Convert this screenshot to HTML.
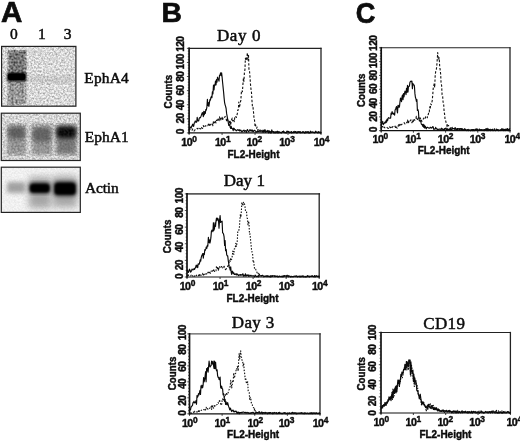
<!DOCTYPE html>
<html lang="en">
<head>
<meta charset="utf-8">
<title>Figure</title>
<style>
html,body{margin:0;padding:0;background:#fff;}
body{width:520px;height:441px;overflow:hidden;}
svg{display:block;filter:blur(0.3px);}
.sb{font-family:"Liberation Sans", Arial, Helvetica, sans-serif;font-weight:700;fill:#0d0d0d;stroke:#0d0d0d;stroke-width:0.42px;}
.sf{font-family:"Liberation Serif", "Times New Roman", Times, serif;font-weight:400;fill:#0d0d0d;stroke:#0d0d0d;stroke-width:0.5px;}
</style>
</head>
<body>
<svg width="520" height="441" viewBox="0 0 520 441">
<defs>
<filter id="b1" x="-30%" y="-30%" width="160%" height="160%"><feGaussianBlur stdDeviation="1.2"/></filter>
<filter id="b2" x="-30%" y="-30%" width="160%" height="160%"><feGaussianBlur stdDeviation="2.2"/></filter>
<filter id="b3" x="-30%" y="-30%" width="160%" height="160%"><feGaussianBlur stdDeviation="3.5"/></filter>
<filter id="nz" x="0" y="0" width="100%" height="100%">
  <feTurbulence type="fractalNoise" baseFrequency="0.55" numOctaves="2" seed="7" result="t"/>
  <feColorMatrix in="t" type="matrix" values="0 0 0 0 0  0 0 0 0 0  0 0 0 0 0  1.9 0 0 0 -0.62" result="a"/>
  <feComposite in="SourceGraphic" in2="a" operator="in"/>
</filter>
<filter id="nz2" x="0" y="0" width="100%" height="100%">
  <feTurbulence type="fractalNoise" baseFrequency="0.5" numOctaves="2" seed="23" result="t"/>
  <feColorMatrix in="t" type="matrix" values="0 0 0 0 0  0 0 0 0 0  0 0 0 0 0  2.2 0 0 0 -0.75" result="a"/>
  <feComposite in="SourceGraphic" in2="a" operator="in"/>
</filter>
<clipPath id="c1"><rect x="1.6" y="46.4" width="74.3" height="59.8"/></clipPath>
<clipPath id="c2"><rect x="1.3" y="113.2" width="79" height="47.3"/></clipPath>
<clipPath id="c3"><rect x="1.3" y="167.2" width="79" height="45.2"/></clipPath>
</defs>
<rect width="520" height="441" fill="#fff"/>
<text class="sb" x="1.00" y="22.00" font-size="29.5" text-anchor="start" style="stroke-width:0.7px">A</text>
<text class="sb" x="161.40" y="21.90" font-size="28.2" text-anchor="start" style="stroke-width:0.7px">B</text>
<text class="sb" x="355.70" y="23.40" font-size="29.5" text-anchor="start" textLength="19.60" lengthAdjust="spacingAndGlyphs" style="stroke-width:0.7px">C</text>
<text class="sf" x="10.00" y="39.30" font-size="15.5" text-anchor="start">0</text>
<text class="sf" x="38.00" y="39.30" font-size="15.5" text-anchor="start">1</text>
<text class="sf" x="63.80" y="39.30" font-size="15.5" text-anchor="start">3</text>
<g clip-path="url(#c1)">
<rect x="1.6" y="46.4" width="74.3" height="59.8" fill="#f6f6f6"/>
<rect x="1.6" y="46.4" width="74.3" height="59.8" fill="#8c8c8c" filter="url(#nz)" opacity="0.85"/>
<rect x="27" y="77" width="46" height="5" fill="#999" filter="url(#b2)" opacity="0.35"/>
<rect x="8.5" y="51" width="17" height="53" fill="#8a8a8a" filter="url(#b1)" opacity="0.42"/>
<rect x="8.5" y="51" width="17" height="20" fill="#666" filter="url(#b1)" opacity="0.4"/>
<rect x="7.5" y="50" width="19" height="24" fill="#1e1e1e" filter="url(#nz2)" opacity="0.75"/>
<rect x="7.5" y="74" width="19" height="31" fill="#1e1e1e" filter="url(#nz2)" opacity="0.6"/>
<rect x="7.0" y="72.4" width="19.2" height="8.8" rx="2" fill="#0a0a0a" filter="url(#b1)"/>
<rect x="8.0" y="73.6" width="17.2" height="6.4" rx="2" fill="#000"/>
</g>
<rect x="1.6" y="46.4" width="74.3" height="59.8" fill="none" stroke="#222" stroke-width="1.2"/>
<text class="sf" x="84.30" y="82.60" font-size="15.4" text-anchor="start" textLength="44.40" lengthAdjust="spacing">EphA4</text>
<g clip-path="url(#c2)">
<rect x="1.3" y="113.2" width="79" height="47.3" fill="#f0f0f0"/>
<rect x="1.3" y="113.2" width="79" height="47.3" fill="#8a8a8a" filter="url(#nz)" opacity="0.8"/>
<rect x="8" y="126" width="17.5" height="28" fill="#808080" filter="url(#b2)" opacity="0.62"/>
<rect x="32.5" y="126" width="19" height="28" fill="#808080" filter="url(#b2)" opacity="0.62"/>
<rect x="56.5" y="126" width="19.5" height="28" fill="#686868" filter="url(#b2)" opacity="0.8"/>
<rect x="56.5" y="126.5" width="19.5" height="11.5" rx="3" fill="#050505" filter="url(#b2)" opacity="0.97"/>
<rect x="8" y="126.5" width="17" height="12" rx="3" fill="#3a3a3a" filter="url(#b2)" opacity="0.6"/>
<rect x="32.5" y="127.5" width="18.5" height="14" rx="3" fill="#3a3a3a" filter="url(#b2)" opacity="0.55"/>
<rect x="7" y="123" width="19" height="33" fill="#444" filter="url(#nz2)" opacity="0.4"/>
<rect x="31.5" y="123" width="21" height="33" fill="#444" filter="url(#nz2)" opacity="0.4"/>
<rect x="55.5" y="123" width="21.5" height="33" fill="#444" filter="url(#nz2)" opacity="0.4"/>
</g>
<rect x="1.3" y="113.2" width="79" height="47.3" fill="none" stroke="#222" stroke-width="1.2"/>
<text class="sf" x="84.70" y="142.10" font-size="15.4" text-anchor="start" textLength="44.00" lengthAdjust="spacing">EphA1</text>
<g clip-path="url(#c3)">
<rect x="1.3" y="167.2" width="79" height="45.2" fill="#f7f7f7"/>
<rect x="1.3" y="167.2" width="79" height="45.2" fill="#bbb" filter="url(#nz)" opacity="0.3"/>
<rect x="29" y="177" width="22" height="31" fill="#999" filter="url(#b3)" opacity="0.85"/>
<rect x="53" y="176" width="24" height="31" fill="#999" filter="url(#b3)" opacity="0.85"/>
<rect x="7" y="182" width="18.5" height="11" rx="2" fill="#8e8e8e" filter="url(#b2)" opacity="0.8"/>
<rect x="29.5" y="183" width="20.5" height="10" rx="2" fill="#050505" filter="url(#b2)"/>
<rect x="30.5" y="184.5" width="18.5" height="7.5" rx="2" fill="#000" filter="url(#b1)"/>
<rect x="54" y="182" width="22" height="13.5" rx="2.5" fill="#000" filter="url(#b2)"/>
<rect x="55" y="183.5" width="20" height="10.5" rx="2.5" fill="#000" filter="url(#b1)"/>
</g>
<rect x="1.3" y="167.2" width="79" height="45.2" fill="none" stroke="#222" stroke-width="1.2"/>
<text class="sf" x="84.90" y="193.30" font-size="15.4" text-anchor="start" textLength="33.80" lengthAdjust="spacing">Actin</text>
<path d="M189.10,48.35H321.00" stroke="#222" stroke-width="1.1" fill="none" stroke-linecap="square"/>
<path d="M321.00,48.35V132.90" stroke="#222" stroke-width="1.3" fill="none" stroke-linecap="square"/>
<path d="M189.10,132.90H321.00" stroke="#111" stroke-width="1.2" fill="none" stroke-linecap="square"/>
<path d="M189.10,48.35V132.90" stroke="#111" stroke-width="1.7" fill="none" stroke-linecap="square"/>
<path d="M189.10,132.90h-2.2M189.10,130.08h-1.3M189.10,127.26h-1.3M189.10,124.45h-1.3M189.10,121.63h-1.3M189.10,118.81h-2.2M189.10,115.99h-1.3M189.10,113.17h-1.3M189.10,110.35h-1.3M189.10,107.53h-1.3M189.10,104.72h-2.2M189.10,101.90h-1.3M189.10,99.08h-1.3M189.10,96.26h-1.3M189.10,93.44h-1.3M189.10,90.62h-2.2M189.10,87.81h-1.3M189.10,84.99h-1.3M189.10,82.17h-1.3M189.10,79.35h-1.3M189.10,76.53h-2.2M189.10,73.72h-1.3M189.10,70.90h-1.3M189.10,68.08h-1.3M189.10,65.26h-1.3M189.10,62.44h-2.2M189.10,59.62h-1.3M189.10,56.80h-1.3M189.10,53.99h-1.3M189.10,51.17h-1.3M189.10,48.35h-2.2" stroke="#222" stroke-width="0.8" fill="none"/>
<path d="M189.10,132.90v2M222.07,132.90v2M255.05,132.90v2M288.02,132.90v2M321.00,132.90v2" stroke="#222" stroke-width="0.9" fill="none"/>
<path d="M189.1,129.8L189.6,128.9L190.1,129.6L190.6,130.1L191.1,129.5L191.6,130.0L192.1,130.2L192.7,128.9L193.2,130.3L193.7,130.8L194.2,130.9L194.7,130.3L195.2,129.5L195.7,129.4L196.2,129.1L196.7,128.5L197.2,128.4L197.7,129.0L198.2,128.4L198.7,128.8L199.2,129.5L199.8,128.4L200.3,128.8L200.8,128.9L201.3,127.0L201.8,127.7L202.3,128.5L202.8,127.9L203.3,125.5L203.8,127.5L204.3,126.3L204.8,126.2L205.3,126.0L205.8,125.7L206.3,126.5L206.9,126.2L207.4,125.6L207.9,125.6L208.4,124.1L208.9,123.0L209.4,125.4L209.9,123.6L210.4,125.0L210.9,124.5L211.4,123.7L211.9,123.0L212.4,123.4L212.9,125.8L213.5,120.7L214.0,122.5L214.5,122.7L215.0,120.7L215.5,122.1L216.0,123.0L216.5,120.2L217.0,120.0L217.5,121.5L218.0,119.0L218.5,119.3L219.0,121.2L219.5,116.9L220.0,118.7L220.6,120.5L221.1,118.2L221.6,118.6L222.1,117.3L222.6,120.6L223.1,117.1L223.6,117.2L224.1,117.5L224.6,117.5L225.1,116.4L225.6,117.3L226.1,118.8L226.6,120.8L227.1,118.9L227.7,119.8L228.2,121.4L228.7,122.3L229.2,121.3L229.7,125.1L230.2,121.3L230.7,124.7L231.2,120.9L231.7,119.5L232.2,118.1L232.7,121.0L233.2,119.2L233.7,119.3L234.3,121.8L234.8,116.8L235.3,117.3L235.8,116.5L236.3,117.5L236.8,115.4L237.3,113.8L237.8,109.9L238.3,109.9L238.8,102.1L239.3,107.7L239.8,105.7L240.3,102.3L240.8,100.6L241.4,91.9L241.9,90.4L242.4,91.8L242.9,84.9L243.4,78.2L243.9,81.4L244.4,72.9L244.9,70.0L245.4,58.1L245.9,60.6L246.4,59.7L246.9,56.7L247.4,52.6L247.9,60.0L248.5,54.6L249.0,70.4L249.5,70.9L250.0,77.1L250.5,84.4L251.0,89.1L251.5,92.7L252.0,101.0L252.5,107.6L253.0,107.4L253.5,111.8L254.0,118.4L254.5,120.1L255.1,126.6L255.6,124.9L256.1,128.1L256.6,128.3L257.1,127.1L257.6,130.3L258.1,129.5L258.6,130.4L259.1,131.1L259.6,130.7L260.1,129.9L260.6,131.0L261.1,130.6L261.6,129.9L262.2,130.5L262.7,131.2L263.2,129.6L263.7,130.5L264.2,129.8L264.7,131.3L265.2,129.8L265.7,131.6L266.2,131.8L266.7,131.2L267.2,131.2L267.7,130.9L268.2,131.4L268.7,130.8L269.3,130.5L269.8,131.7L270.3,132.2L270.8,131.7L271.3,131.1L271.8,131.2L272.3,132.0L272.8,132.4L273.3,131.9L273.8,131.5L274.3,132.5L274.8,131.4L275.3,132.0L275.8,132.0L276.4,132.5L276.9,131.4L277.4,132.2L277.9,132.9L278.4,131.7L278.9,132.4L279.4,131.6L279.9,132.1L280.4,132.5L280.9,132.1L281.4,132.5L281.9,132.7L282.4,132.2L283.0,131.7L283.5,132.2L284.0,132.3L284.5,132.5L285.0,131.9L285.5,132.1L286.0,131.7L286.5,132.0L287.0,131.0L287.5,132.9L288.0,132.2L288.5,131.9L289.0,131.7L289.5,132.9L290.1,132.9L290.6,132.3L291.1,131.6L291.6,131.6L292.1,132.9L292.6,132.2L293.1,131.6L293.6,132.2L294.1,132.8L294.6,132.6L295.1,132.9L295.6,131.6L296.1,132.4L296.6,132.5L297.2,132.7L297.7,132.3L298.2,132.8L298.7,132.8L299.2,132.3L299.7,132.4L300.2,132.0L300.7,132.2L301.2,131.6L301.7,132.3L302.2,132.1L302.7,132.1L303.2,132.7L303.8,131.6L304.3,132.6L304.8,132.9L305.3,131.6L305.8,131.9L306.3,132.6L306.8,131.7L307.3,131.7L307.8,131.9L308.3,132.9L308.8,132.2L309.3,132.9L309.8,132.6L310.3,132.6L310.9,132.8L311.4,132.0L311.9,132.7L312.4,131.9L312.9,132.2L313.4,132.6L313.9,132.2L314.4,131.9L314.9,131.7L315.4,132.4L315.9,131.3L316.4,132.0L316.9,131.6L317.4,132.9L318.0,132.9L318.5,131.6L319.0,132.4L319.5,132.1L320.0,131.6L320.5,132.9L321.0,132.1" fill="none" stroke="#111" stroke-width="1.1" stroke-dasharray="2.4,1.7" stroke-linejoin="round"/>
<path d="M189.1,129.8L189.6,127.9L190.1,126.9L190.6,127.8L191.1,128.2L191.6,126.4L192.1,125.4L192.7,124.2L193.2,126.4L193.7,126.1L194.2,123.1L194.7,122.9L195.2,121.0L195.7,121.3L196.2,122.3L196.7,122.0L197.2,117.3L197.7,120.8L198.2,121.0L198.7,120.9L199.2,118.3L199.8,117.6L200.3,117.8L200.8,116.7L201.3,115.4L201.8,114.0L202.3,112.6L202.8,113.6L203.3,116.7L203.8,111.4L204.3,114.8L204.8,111.7L205.3,113.5L205.8,109.5L206.3,110.1L206.9,107.0L207.4,99.3L207.9,105.5L208.4,102.5L208.9,106.3L209.4,103.0L209.9,99.7L210.4,100.2L210.9,97.4L211.4,96.4L211.9,97.7L212.4,91.9L212.9,94.0L213.5,85.0L214.0,89.9L214.5,84.9L215.0,85.2L215.5,81.0L216.0,84.9L216.5,79.5L217.0,82.1L217.5,77.2L218.0,78.5L218.5,79.3L219.0,81.2L219.5,75.3L220.0,75.2L220.6,72.8L221.1,75.7L221.6,72.8L222.1,77.1L222.6,82.5L223.1,87.4L223.6,92.1L224.1,97.9L224.6,102.6L225.1,104.8L225.6,106.4L226.1,108.5L226.6,113.4L227.1,116.1L227.7,119.3L228.2,122.1L228.7,125.4L229.2,125.3L229.7,124.8L230.2,127.5L230.7,128.4L231.2,126.4L231.7,128.5L232.2,128.4L232.7,129.1L233.2,130.7L233.7,128.1L234.3,128.7L234.8,129.9L235.3,129.6L235.8,130.1L236.3,130.8L236.8,130.3L237.3,130.1L237.8,129.6L238.3,130.0L238.8,130.5L239.3,129.7L239.8,131.1L240.3,130.2L240.8,130.1L241.4,131.0L241.9,131.9L242.4,131.4L242.9,130.7L243.4,130.6L243.9,130.0L244.4,131.5L244.9,130.9L245.4,130.5L245.9,131.1L246.4,132.4L246.9,130.5L247.4,129.6L247.9,130.4L248.5,131.6L249.0,131.3L249.5,130.9L250.0,129.5L250.5,130.7L251.0,131.0L251.5,130.1L252.0,131.2L252.5,130.0L253.0,131.6L253.5,131.4L254.0,130.7L254.5,130.3L255.1,130.8L255.6,131.0L256.1,132.3L256.6,131.7L257.1,131.6L257.6,131.6L258.1,130.9L258.6,131.5L259.1,130.8L259.6,131.2L260.1,131.5L260.6,131.3L261.1,131.1L261.6,130.8L262.2,131.7L262.7,131.6L263.2,132.3L263.7,130.5L264.2,130.6L264.7,131.7L265.2,131.9L265.7,132.4L266.2,131.5L266.7,131.5L267.2,130.4L267.7,131.6L268.2,132.2L268.7,132.9L269.3,131.0L269.8,131.8L270.3,132.9L270.8,131.8L271.3,132.9L271.8,129.9L272.3,131.4L272.8,131.7L273.3,132.2L273.8,132.9L274.3,132.2L274.8,132.9L275.3,131.8L275.8,132.9L276.4,132.8L276.9,131.5L277.4,131.2L277.9,132.9L278.4,132.9L278.9,131.7L279.4,131.7L279.9,132.8L280.4,132.6L280.9,132.6L281.4,132.9L281.9,132.6L282.4,131.5L283.0,131.8L283.5,131.0L284.0,132.3L284.5,132.3L285.0,132.8L285.5,132.3L286.0,132.9L286.5,132.9L287.0,131.8L287.5,131.4L288.0,131.7L288.5,131.4L289.0,132.1L289.5,132.7L290.1,132.2L290.6,132.5L291.1,132.9L291.6,132.9L292.1,132.9L292.6,132.3L293.1,132.2L293.6,132.6L294.1,131.4L294.6,132.2L295.1,131.9L295.6,131.5L296.1,132.8L296.6,132.9L297.2,131.8L297.7,132.7L298.2,131.5L298.7,132.1L299.2,131.7L299.7,131.8L300.2,132.9L300.7,131.8L301.2,132.7L301.7,132.7L302.2,132.6L302.7,131.8L303.2,131.7L303.8,131.7L304.3,132.9L304.8,132.7L305.3,132.9L305.8,132.4L306.3,131.9L306.8,132.8L307.3,132.2L307.8,132.2L308.3,131.7L308.8,132.8L309.3,132.8L309.8,132.8L310.3,131.2L310.9,131.6L311.4,132.4L311.9,132.2L312.4,132.2L312.9,132.2L313.4,132.4L313.9,132.5L314.4,132.9L314.9,132.7L315.4,131.3L315.9,132.0L316.4,132.3L316.9,132.5L317.4,132.3L318.0,132.1L318.5,132.7L319.0,132.2L319.5,132.2L320.0,132.8L320.5,132.8L321.0,132.9" fill="none" stroke="#0a0a0a" stroke-width="1.15" stroke-linejoin="round"/>
<text class="sb" transform="translate(184.10,131.70) rotate(-90)" font-size="10.2" text-anchor="middle" letter-spacing="-0.6">0</text>
<text class="sb" transform="translate(184.10,118.50) rotate(-90)" font-size="10.2" text-anchor="middle" letter-spacing="-0.6">20</text>
<text class="sb" transform="translate(184.10,105.20) rotate(-90)" font-size="10.2" text-anchor="middle" letter-spacing="-0.6">40</text>
<text class="sb" transform="translate(184.10,90.40) rotate(-90)" font-size="10.2" text-anchor="middle" letter-spacing="-0.6">60</text>
<text class="sb" transform="translate(184.10,76.70) rotate(-90)" font-size="10.2" text-anchor="middle" letter-spacing="-0.6">80</text>
<text class="sb" transform="translate(184.10,61.80) rotate(-90)" font-size="10.2" text-anchor="middle" letter-spacing="-0.6">100</text>
<text class="sb" transform="translate(184.10,44.20) rotate(-90)" font-size="10.2" text-anchor="middle" letter-spacing="-0.6">120</text>
<text class="sb" transform="translate(172.10,91.62) rotate(-90)" font-size="10" text-anchor="middle" textLength="33.60" lengthAdjust="spacingAndGlyphs">Counts</text>
<text class="sb" transform="translate(181.30,146.00) " font-size="10.7" letter-spacing="-0.6">10<tspan dy="-4.3" dx="0.3" font-size="8.4">0</tspan></text>
<text class="sb" transform="translate(215.00,146.00) " font-size="10.7" letter-spacing="-0.6">10<tspan dy="-4.3" dx="0.3" font-size="8.4">1</tspan></text>
<text class="sb" transform="translate(246.60,146.00) " font-size="10.7" letter-spacing="-0.6">10<tspan dy="-4.3" dx="0.3" font-size="8.4">2</tspan></text>
<text class="sb" transform="translate(279.20,146.00) " font-size="10.7" letter-spacing="-0.6">10<tspan dy="-4.3" dx="0.3" font-size="8.4">3</tspan></text>
<text class="sb" transform="translate(313.70,146.00) " font-size="10.7" letter-spacing="-0.6">10<tspan dy="-4.3" dx="0.3" font-size="8.4">4</tspan></text>
<text class="sb" x="227.50" y="158.40" font-size="10" text-anchor="start" textLength="52.00" lengthAdjust="spacingAndGlyphs">FL2-Height</text>
<text class="sf" x="216.90" y="41.00" font-size="17" text-anchor="start" textLength="43.60" lengthAdjust="spacing">Day 0</text>
<path d="M187.00,193.90H319.20" stroke="#5a5a5a" stroke-width="1.7" fill="none" stroke-linecap="square"/>
<path d="M319.20,193.90V277.00" stroke="#222" stroke-width="1.3" fill="none" stroke-linecap="square"/>
<path d="M187.00,277.00H319.20" stroke="#111" stroke-width="1.2" fill="none" stroke-linecap="square"/>
<path d="M187.00,193.90V277.00" stroke="#111" stroke-width="1.7" fill="none" stroke-linecap="square"/>
<path d="M187.00,277.00h-2.2M187.00,273.68h-1.3M187.00,270.35h-1.3M187.00,267.03h-1.3M187.00,263.70h-1.3M187.00,260.38h-2.2M187.00,257.06h-1.3M187.00,253.73h-1.3M187.00,250.41h-1.3M187.00,247.08h-1.3M187.00,243.76h-2.2M187.00,240.44h-1.3M187.00,237.11h-1.3M187.00,233.79h-1.3M187.00,230.46h-1.3M187.00,227.14h-2.2M187.00,223.82h-1.3M187.00,220.49h-1.3M187.00,217.17h-1.3M187.00,213.84h-1.3M187.00,210.52h-2.2M187.00,207.20h-1.3M187.00,203.87h-1.3M187.00,200.55h-1.3M187.00,197.22h-1.3M187.00,193.90h-2.2" stroke="#222" stroke-width="0.8" fill="none"/>
<path d="M187.00,277.00v2M220.05,277.00v2M253.10,277.00v2M286.15,277.00v2M319.20,277.00v2" stroke="#222" stroke-width="0.9" fill="none"/>
<path d="M187.0,275.5L187.5,275.8L188.0,274.0L188.5,275.4L189.0,275.5L189.5,275.4L190.1,275.8L190.6,275.9L191.1,275.2L191.6,275.7L192.1,275.0L192.6,275.5L193.1,276.4L193.6,276.1L194.1,275.8L194.6,276.4L195.1,275.3L195.6,275.4L196.2,274.7L196.7,275.7L197.2,275.3L197.7,274.8L198.2,274.6L198.7,275.7L199.2,274.1L199.7,275.4L200.2,274.2L200.7,275.1L201.2,275.2L201.7,275.6L202.3,274.9L202.8,273.3L203.3,275.2L203.8,273.7L204.3,273.6L204.8,274.6L205.3,273.3L205.8,272.8L206.3,273.9L206.8,273.9L207.3,272.4L207.8,272.8L208.4,271.1L208.9,272.4L209.4,273.6L209.9,272.4L210.4,273.3L210.9,271.3L211.4,271.1L211.9,272.0L212.4,272.2L212.9,270.2L213.4,271.2L213.9,269.3L214.5,271.4L215.0,270.4L215.5,270.5L216.0,270.8L216.5,266.1L217.0,267.1L217.5,269.6L218.0,267.6L218.5,270.7L219.0,266.6L219.5,266.6L220.1,268.2L220.6,268.0L221.1,267.0L221.6,266.5L222.1,267.4L222.6,267.9L223.1,267.0L223.6,267.6L224.1,266.3L224.6,267.6L225.1,267.8L225.6,270.5L226.2,268.9L226.7,268.1L227.2,267.4L227.7,266.0L228.2,265.4L228.7,266.4L229.2,261.6L229.7,260.3L230.2,261.5L230.7,258.1L231.2,259.7L231.7,259.2L232.3,255.8L232.8,251.0L233.3,253.0L233.8,254.4L234.3,248.8L234.8,248.9L235.3,247.6L235.8,243.2L236.3,246.5L236.8,244.1L237.3,240.6L237.8,230.8L238.4,230.8L238.9,230.2L239.4,227.5L239.9,219.8L240.4,214.2L240.9,217.3L241.4,210.7L241.9,202.2L242.4,204.8L242.9,205.8L243.4,202.2L243.9,204.4L244.5,203.8L245.0,206.5L245.5,211.0L246.0,211.2L246.5,211.3L247.0,218.0L247.5,218.6L248.0,224.8L248.5,221.1L249.0,223.4L249.5,234.0L250.0,233.8L250.6,240.4L251.1,245.2L251.6,250.3L252.1,252.2L252.6,253.9L253.1,261.1L253.6,260.3L254.1,265.4L254.6,269.1L255.1,268.8L255.6,269.0L256.2,270.9L256.7,271.5L257.2,273.1L257.7,274.1L258.2,273.3L258.7,275.0L259.2,274.1L259.7,274.9L260.2,275.6L260.7,275.8L261.2,275.9L261.7,275.8L262.3,275.9L262.8,275.9L263.3,276.8L263.8,276.9L264.3,275.8L264.8,276.3L265.3,276.3L265.8,276.2L266.3,276.6L266.8,275.6L267.3,276.2L267.8,276.3L268.4,276.6L268.9,275.9L269.4,276.0L269.9,275.7L270.4,275.9L270.9,276.6L271.4,276.7L271.9,275.8L272.4,276.5L272.9,276.4L273.4,276.4L273.9,276.1L274.5,276.1L275.0,276.7L275.5,276.5L276.0,276.9L276.5,276.1L277.0,276.4L277.5,276.9L278.0,276.0L278.5,276.3L279.0,276.7L279.5,276.5L280.0,276.5L280.6,276.3L281.1,276.3L281.6,276.5L282.1,276.2L282.6,277.0L283.1,276.5L283.6,276.1L284.1,276.0L284.6,276.1L285.1,276.7L285.6,276.9L286.1,276.5L286.7,275.6L287.2,276.3L287.7,276.6L288.2,276.9L288.7,276.3L289.2,276.5L289.7,276.2L290.2,276.3L290.7,277.0L291.2,276.4L291.7,276.1L292.3,276.6L292.8,276.8L293.3,276.8L293.8,276.8L294.3,275.7L294.8,275.9L295.3,276.6L295.8,275.9L296.3,276.7L296.8,276.6L297.3,276.6L297.8,276.5L298.4,276.2L298.9,275.7L299.4,276.2L299.9,276.4L300.4,276.4L300.9,276.5L301.4,276.3L301.9,276.7L302.4,276.3L302.9,276.3L303.4,276.1L303.9,276.7L304.5,276.3L305.0,276.3L305.5,276.7L306.0,277.0L306.5,276.6L307.0,276.1L307.5,276.5L308.0,275.7L308.5,276.3L309.0,276.7L309.5,276.5L310.0,276.3L310.6,276.3L311.1,276.5L311.6,276.3L312.1,275.5L312.6,276.2L313.1,276.4L313.6,276.6L314.1,277.0L314.6,276.4L315.1,276.6L315.6,276.5L316.1,276.6L316.7,276.2L317.2,276.1L317.7,276.7L318.2,276.9L318.7,276.4L319.2,276.0" fill="none" stroke="#111" stroke-width="1.1" stroke-dasharray="1.5,1.5" stroke-linejoin="round"/>
<path d="M187.0,270.9L187.5,270.2L188.0,272.3L188.5,272.3L189.0,270.8L189.5,269.2L190.1,270.5L190.6,272.1L191.1,271.6L191.6,270.5L192.1,269.0L192.6,269.8L193.1,269.9L193.6,269.4L194.1,268.5L194.6,269.4L195.1,268.1L195.6,267.4L196.2,265.1L196.7,267.1L197.2,265.3L197.7,267.6L198.2,263.9L198.7,264.0L199.2,264.2L199.7,262.5L200.2,259.9L200.7,261.2L201.2,257.7L201.7,255.8L202.3,254.6L202.8,253.5L203.3,258.2L203.8,253.6L204.3,254.6L204.8,249.7L205.3,250.4L205.8,248.9L206.3,247.0L206.8,248.4L207.3,245.4L207.8,246.2L208.4,237.4L208.9,242.5L209.4,239.8L209.9,243.2L210.4,241.0L210.9,237.7L211.4,231.4L211.9,230.1L212.4,230.2L212.9,231.7L213.4,222.7L213.9,230.3L214.5,228.5L215.0,222.9L215.5,226.4L216.0,221.1L216.5,218.0L217.0,220.6L217.5,218.2L218.0,218.6L218.5,220.3L219.0,228.1L219.5,220.6L220.1,215.5L220.6,222.4L221.1,221.6L221.6,221.9L222.1,221.2L222.6,232.7L223.1,233.1L223.6,234.3L224.1,236.9L224.6,245.5L225.1,240.6L225.6,250.7L226.2,249.4L226.7,254.7L227.2,255.8L227.7,255.8L228.2,260.1L228.7,263.5L229.2,267.3L229.7,267.9L230.2,270.1L230.7,266.9L231.2,272.3L231.7,274.4L232.3,271.2L232.8,271.8L233.3,273.6L233.8,272.8L234.3,274.4L234.8,274.5L235.3,273.9L235.8,274.3L236.3,275.0L236.8,273.7L237.3,274.3L237.8,274.7L238.4,275.6L238.9,274.8L239.4,275.1L239.9,275.0L240.4,274.5L240.9,275.4L241.4,274.9L241.9,274.6L242.4,274.9L242.9,273.7L243.4,276.2L243.9,275.2L244.5,275.9L245.0,275.3L245.5,273.8L246.0,276.3L246.5,275.5L247.0,275.0L247.5,275.4L248.0,274.9L248.5,276.3L249.0,275.0L249.5,276.0L250.0,276.2L250.6,275.3L251.1,275.4L251.6,276.0L252.1,276.1L252.6,275.8L253.1,275.7L253.6,275.8L254.1,276.3L254.6,276.9L255.1,275.1L255.6,275.7L256.2,276.4L256.7,276.6L257.2,276.2L257.7,276.1L258.2,276.9L258.7,275.2L259.2,275.7L259.7,276.1L260.2,275.8L260.7,275.8L261.2,275.5L261.7,275.9L262.3,275.4L262.8,275.3L263.3,276.1L263.8,276.2L264.3,276.4L264.8,276.1L265.3,276.4L265.8,276.1L266.3,275.9L266.8,275.9L267.3,276.6L267.8,275.7L268.4,276.3L268.9,276.2L269.4,276.4L269.9,277.0L270.4,276.1L270.9,276.9L271.4,275.8L271.9,276.2L272.4,275.6L272.9,276.0L273.4,276.0L273.9,275.7L274.5,276.3L275.0,275.7L275.5,276.3L276.0,276.2L276.5,276.5L277.0,276.1L277.5,276.0L278.0,276.5L278.5,276.8L279.0,276.3L279.5,276.1L280.0,276.3L280.6,276.7L281.1,276.6L281.6,276.4L282.1,277.0L282.6,276.5L283.1,275.7L283.6,276.8L284.1,276.4L284.6,275.6L285.1,276.0L285.6,275.9L286.1,276.4L286.7,276.8L287.2,275.2L287.7,276.2L288.2,276.2L288.7,275.7L289.2,276.0L289.7,276.3L290.2,276.7L290.7,276.4L291.2,276.4L291.7,276.6L292.3,276.6L292.8,276.7L293.3,276.4L293.8,276.5L294.3,276.2L294.8,276.0L295.3,276.2L295.8,276.3L296.3,275.8L296.8,276.1L297.3,276.9L297.8,276.6L298.4,276.3L298.9,276.7L299.4,276.1L299.9,277.0L300.4,277.0L300.9,276.0L301.4,276.1L301.9,276.9L302.4,276.3L302.9,275.9L303.4,276.8L303.9,276.8L304.5,276.8L305.0,276.7L305.5,277.0L306.0,276.5L306.5,276.9L307.0,276.3L307.5,275.6L308.0,276.7L308.5,276.0L309.0,276.0L309.5,277.0L310.0,276.3L310.6,276.4L311.1,276.5L311.6,276.1L312.1,276.5L312.6,276.3L313.1,276.5L313.6,276.4L314.1,276.7L314.6,275.6L315.1,276.4L315.6,276.8L316.1,275.7L316.7,275.8L317.2,276.5L317.7,276.6L318.2,276.7L318.7,276.0L319.2,276.5" fill="none" stroke="#0a0a0a" stroke-width="1.15" stroke-linejoin="round"/>
<text class="sb" transform="translate(182.80,276.50) rotate(-90)" font-size="10.2" text-anchor="middle" letter-spacing="-0.6">0</text>
<text class="sb" transform="translate(182.80,265.30) rotate(-90)" font-size="10.2" text-anchor="middle" letter-spacing="-0.6">20</text>
<text class="sb" transform="translate(182.80,247.30) rotate(-90)" font-size="10.2" text-anchor="middle" letter-spacing="-0.6">40</text>
<text class="sb" transform="translate(182.80,229.80) rotate(-90)" font-size="10.2" text-anchor="middle" letter-spacing="-0.6">60</text>
<text class="sb" transform="translate(182.80,212.80) rotate(-90)" font-size="10.2" text-anchor="middle" letter-spacing="-0.6">80</text>
<text class="sb" transform="translate(182.80,195.80) rotate(-90)" font-size="10.2" text-anchor="middle" letter-spacing="-0.6">100</text>
<text class="sb" transform="translate(171.00,236.45) rotate(-90)" font-size="10" text-anchor="middle" textLength="33.60" lengthAdjust="spacingAndGlyphs">Counts</text>
<text class="sb" transform="translate(179.70,290.40) " font-size="10.7" letter-spacing="-0.6">10<tspan dy="-4.3" dx="0.3" font-size="8.4">0</tspan></text>
<text class="sb" transform="translate(212.75,290.40) " font-size="10.7" letter-spacing="-0.6">10<tspan dy="-4.3" dx="0.3" font-size="8.4">1</tspan></text>
<text class="sb" transform="translate(245.80,290.40) " font-size="10.7" letter-spacing="-0.6">10<tspan dy="-4.3" dx="0.3" font-size="8.4">2</tspan></text>
<text class="sb" transform="translate(278.85,290.40) " font-size="10.7" letter-spacing="-0.6">10<tspan dy="-4.3" dx="0.3" font-size="8.4">3</tspan></text>
<text class="sb" transform="translate(311.90,290.40) " font-size="10.7" letter-spacing="-0.6">10<tspan dy="-4.3" dx="0.3" font-size="8.4">4</tspan></text>
<text class="sb" x="226.50" y="302.40" font-size="10" text-anchor="start" textLength="52.00" lengthAdjust="spacingAndGlyphs">FL2-Height</text>
<text class="sf" x="223.70" y="186.40" font-size="17" text-anchor="start" textLength="41.20" lengthAdjust="spacing">Day 1</text>
<path d="M189.50,333.90H320.00" stroke="#5a5a5a" stroke-width="1.4" fill="none" stroke-linecap="square"/>
<path d="M320.00,333.90V413.80" stroke="#222" stroke-width="1.3" fill="none" stroke-linecap="square"/>
<path d="M189.50,413.80H320.00" stroke="#111" stroke-width="1.2" fill="none" stroke-linecap="square"/>
<path d="M189.50,333.90V413.80" stroke="#111" stroke-width="1.7" fill="none" stroke-linecap="square"/>
<path d="M189.50,413.80h-2.2M189.50,410.60h-1.3M189.50,407.41h-1.3M189.50,404.21h-1.3M189.50,401.02h-1.3M189.50,397.82h-2.2M189.50,394.62h-1.3M189.50,391.43h-1.3M189.50,388.23h-1.3M189.50,385.04h-1.3M189.50,381.84h-2.2M189.50,378.64h-1.3M189.50,375.45h-1.3M189.50,372.25h-1.3M189.50,369.06h-1.3M189.50,365.86h-2.2M189.50,362.66h-1.3M189.50,359.47h-1.3M189.50,356.27h-1.3M189.50,353.08h-1.3M189.50,349.88h-2.2M189.50,346.68h-1.3M189.50,343.49h-1.3M189.50,340.29h-1.3M189.50,337.10h-1.3M189.50,333.90h-2.2" stroke="#222" stroke-width="0.8" fill="none"/>
<path d="M189.50,413.80v2M222.12,413.80v2M254.75,413.80v2M287.38,413.80v2M320.00,413.80v2" stroke="#222" stroke-width="0.9" fill="none"/>
<path d="M189.5,412.8L190.0,412.8L190.5,413.1L191.0,411.9L191.5,413.4L192.0,412.6L192.5,412.1L193.0,412.1L193.5,412.0L194.0,412.8L194.5,411.2L195.0,412.5L195.5,412.1L196.0,411.9L196.5,411.9L197.0,412.1L197.5,410.8L198.0,411.6L198.5,410.8L199.0,412.3L199.5,410.7L200.0,411.1L200.5,410.5L201.0,410.5L201.5,410.1L202.0,410.4L202.6,410.1L203.1,409.9L203.6,409.6L204.1,409.6L204.6,409.8L205.1,409.0L205.6,409.9L206.1,407.2L206.6,408.0L207.1,407.2L207.6,408.5L208.1,409.5L208.6,409.5L209.1,408.7L209.6,408.3L210.1,407.9L210.6,407.7L211.1,406.4L211.6,409.5L212.1,404.9L212.6,406.9L213.1,406.2L213.6,408.2L214.1,405.7L214.6,407.4L215.1,404.8L215.6,404.8L216.1,404.6L216.6,404.8L217.1,404.6L217.6,404.4L218.1,402.5L218.6,403.3L219.1,402.8L219.6,399.6L220.1,402.4L220.6,403.6L221.1,405.2L221.6,405.1L222.1,400.6L222.6,398.7L223.1,400.9L223.6,400.3L224.1,398.0L224.6,396.6L225.1,394.5L225.6,395.5L226.1,395.7L226.6,392.5L227.1,394.5L227.6,394.5L228.1,392.8L228.7,390.3L229.2,389.5L229.7,387.6L230.2,386.5L230.7,380.3L231.2,383.4L231.7,388.0L232.2,385.2L232.7,380.3L233.2,381.4L233.7,372.9L234.2,378.1L234.7,376.7L235.2,373.8L235.7,373.1L236.2,369.3L236.7,369.8L237.2,366.5L237.7,367.4L238.2,371.1L238.7,359.6L239.2,353.3L239.7,358.9L240.2,355.1L240.7,350.8L241.2,357.0L241.7,357.7L242.2,361.5L242.7,361.8L243.2,366.5L243.7,362.9L244.2,370.7L244.7,373.9L245.2,379.2L245.7,377.7L246.2,382.5L246.7,381.2L247.2,383.7L247.7,381.7L248.2,391.3L248.7,391.8L249.2,392.4L249.7,399.8L250.2,397.3L250.7,397.5L251.2,402.2L251.7,404.3L252.2,404.6L252.7,406.6L253.2,407.4L253.7,407.7L254.2,410.0L254.8,408.7L255.3,411.2L255.8,411.2L256.3,411.7L256.8,413.2L257.3,412.8L257.8,412.2L258.3,412.3L258.8,411.9L259.3,411.5L259.8,412.4L260.3,412.8L260.8,413.0L261.3,412.2L261.8,413.0L262.3,412.8L262.8,412.3L263.3,412.9L263.8,412.9L264.3,412.8L264.8,413.5L265.3,412.9L265.8,412.9L266.3,412.8L266.8,413.1L267.3,413.8L267.8,413.3L268.3,412.7L268.8,413.3L269.3,413.4L269.8,412.9L270.3,412.9L270.8,413.0L271.3,412.9L271.8,412.8L272.3,412.9L272.8,413.0L273.3,412.5L273.8,413.5L274.3,412.4L274.8,413.1L275.3,413.4L275.8,412.9L276.3,412.8L276.8,413.6L277.3,413.1L277.8,412.9L278.3,412.9L278.8,413.2L279.3,413.5L279.8,413.2L280.3,412.5L280.9,413.5L281.4,412.2L281.9,413.2L282.4,413.2L282.9,413.4L283.4,413.1L283.9,413.1L284.4,413.5L284.9,412.5L285.4,412.8L285.9,413.1L286.4,413.6L286.9,413.3L287.4,413.3L287.9,412.9L288.4,413.2L288.9,413.6L289.4,413.3L289.9,413.3L290.4,413.2L290.9,412.9L291.4,413.4L291.9,413.7L292.4,412.8L292.9,412.9L293.4,413.6L293.9,413.0L294.4,413.4L294.9,413.0L295.4,413.0L295.9,413.7L296.4,413.6L296.9,413.3L297.4,413.7L297.9,413.6L298.4,413.5L298.9,413.3L299.4,413.3L299.9,413.5L300.4,413.3L300.9,412.8L301.4,413.0L301.9,413.1L302.4,413.5L302.9,413.5L303.4,413.6L303.9,413.5L304.4,413.8L304.9,413.3L305.4,413.4L305.9,413.5L306.4,413.5L306.9,413.7L307.5,413.0L308.0,413.1L308.5,412.9L309.0,413.1L309.5,413.3L310.0,413.0L310.5,413.7L311.0,413.7L311.5,413.0L312.0,413.1L312.5,413.2L313.0,412.8L313.5,413.3L314.0,413.2L314.5,413.1L315.0,413.7L315.5,413.1L316.0,413.1L316.5,413.3L317.0,413.5L317.5,413.5L318.0,413.8L318.5,413.6L319.0,412.8L319.5,412.9L320.0,413.3" fill="none" stroke="#111" stroke-width="1.1" stroke-dasharray="1.5,1.5" stroke-linejoin="round"/>
<path d="M189.5,409.6L190.0,409.3L190.5,409.8L191.0,406.8L191.5,406.7L192.0,405.8L192.5,405.3L193.0,402.5L193.5,402.6L194.0,401.3L194.5,402.9L195.0,402.4L195.5,402.6L196.0,400.6L196.5,404.3L197.0,395.5L197.5,397.2L198.0,396.2L198.5,393.5L199.0,395.0L199.5,392.5L200.0,390.3L200.5,394.5L201.0,385.8L201.5,387.9L202.0,385.2L202.6,387.8L203.1,385.2L203.6,377.5L204.1,381.9L204.6,380.1L205.1,376.0L205.6,371.7L206.1,381.8L206.6,368.6L207.1,370.9L207.6,367.5L208.1,372.2L208.6,366.5L209.1,361.1L209.6,365.8L210.1,367.0L210.6,365.9L211.1,365.8L211.6,361.1L212.1,362.3L212.6,364.2L213.1,361.1L213.6,366.2L214.1,368.6L214.6,361.1L215.1,368.4L215.6,362.3L216.1,369.2L216.6,370.9L217.1,369.8L217.6,375.6L218.1,377.4L218.6,377.3L219.1,379.7L219.6,378.5L220.1,377.1L220.6,387.3L221.1,388.3L221.6,386.1L222.1,388.5L222.6,388.9L223.1,394.8L223.6,393.7L224.1,396.8L224.6,401.5L225.1,399.4L225.6,404.5L226.1,401.9L226.6,404.4L227.1,404.8L227.6,402.5L228.1,404.4L228.7,406.7L229.2,407.7L229.7,409.8L230.2,408.0L230.7,408.9L231.2,410.6L231.7,411.6L232.2,410.3L232.7,410.7L233.2,410.1L233.7,411.8L234.2,412.0L234.7,411.2L235.2,411.6L235.7,411.1L236.2,411.1L236.7,412.5L237.2,413.5L237.7,412.1L238.2,412.6L238.7,412.1L239.2,413.8L239.7,412.5L240.2,412.5L240.7,412.9L241.2,412.4L241.7,412.6L242.2,412.6L242.7,412.0L243.2,412.0L243.7,412.1L244.2,412.5L244.7,412.6L245.2,412.4L245.7,412.6L246.2,413.1L246.7,412.5L247.2,412.3L247.7,412.9L248.2,413.3L248.7,412.5L249.2,413.1L249.7,413.5L250.2,412.9L250.7,413.5L251.2,412.6L251.7,413.0L252.2,412.8L252.7,412.3L253.2,412.3L253.7,412.9L254.2,413.8L254.8,413.1L255.3,413.4L255.8,412.4L256.3,412.1L256.8,412.5L257.3,412.6L257.8,412.6L258.3,412.6L258.8,413.0L259.3,412.5L259.8,413.0L260.3,413.4L260.8,412.9L261.3,412.2L261.8,413.0L262.3,413.7L262.8,412.4L263.3,412.8L263.8,412.7L264.3,413.2L264.8,412.7L265.3,412.3L265.8,413.2L266.3,412.7L266.8,412.8L267.3,413.4L267.8,412.9L268.3,412.7L268.8,413.4L269.3,412.5L269.8,413.5L270.3,412.5L270.8,412.8L271.3,412.9L271.8,413.4L272.3,413.4L272.8,413.8L273.3,413.1L273.8,413.1L274.3,412.8L274.8,412.7L275.3,413.0L275.8,413.2L276.3,412.7L276.8,413.1L277.3,413.1L277.8,413.6L278.3,412.7L278.8,413.4L279.3,412.3L279.8,413.4L280.3,413.3L280.9,413.1L281.4,413.4L281.9,413.7L282.4,413.6L282.9,413.4L283.4,413.2L283.9,412.7L284.4,412.8L284.9,413.0L285.4,412.8L285.9,413.8L286.4,413.4L286.9,413.3L287.4,413.5L287.9,412.9L288.4,413.4L288.9,413.6L289.4,412.8L289.9,413.4L290.4,413.2L290.9,413.7L291.4,412.8L291.9,413.1L292.4,412.6L292.9,412.3L293.4,412.9L293.9,413.3L294.4,413.4L294.9,412.5L295.4,413.2L295.9,412.9L296.4,413.1L296.9,413.8L297.4,413.1L297.9,413.1L298.4,413.1L298.9,413.2L299.4,413.1L299.9,413.5L300.4,412.9L300.9,413.4L301.4,413.1L301.9,412.5L302.4,413.1L302.9,413.6L303.4,413.0L303.9,413.7L304.4,413.1L304.9,412.6L305.4,413.6L305.9,413.2L306.4,413.5L306.9,413.1L307.5,413.1L308.0,413.1L308.5,413.3L309.0,413.8L309.5,413.5L310.0,413.4L310.5,412.9L311.0,413.8L311.5,412.8L312.0,413.5L312.5,413.8L313.0,412.6L313.5,413.1L314.0,413.6L314.5,413.1L315.0,413.0L315.5,413.7L316.0,412.7L316.5,413.5L317.0,412.9L317.5,413.4L318.0,413.8L318.5,413.4L319.0,413.4L319.5,413.2L320.0,413.8" fill="none" stroke="#0a0a0a" stroke-width="1.15" stroke-linejoin="round"/>
<text class="sb" transform="translate(185.70,413.30) rotate(-90)" font-size="10.2" text-anchor="middle" letter-spacing="-0.6">0</text>
<text class="sb" transform="translate(185.70,400.70) rotate(-90)" font-size="10.2" text-anchor="middle" letter-spacing="-0.6">20</text>
<text class="sb" transform="translate(185.70,383.90) rotate(-90)" font-size="10.2" text-anchor="middle" letter-spacing="-0.6">40</text>
<text class="sb" transform="translate(185.70,366.70) rotate(-90)" font-size="10.2" text-anchor="middle" letter-spacing="-0.6">60</text>
<text class="sb" transform="translate(185.70,349.70) rotate(-90)" font-size="10.2" text-anchor="middle" letter-spacing="-0.6">80</text>
<text class="sb" transform="translate(185.70,332.70) rotate(-90)" font-size="10.2" text-anchor="middle" letter-spacing="-0.6">100</text>
<text class="sb" transform="translate(175.70,373.45) rotate(-90)" font-size="10" text-anchor="middle" textLength="33.60" lengthAdjust="spacingAndGlyphs">Counts</text>
<text class="sb" transform="translate(182.00,427.20) " font-size="10.7" letter-spacing="-0.6">10<tspan dy="-4.3" dx="0.3" font-size="8.4">0</tspan></text>
<text class="sb" transform="translate(214.60,427.20) " font-size="10.7" letter-spacing="-0.6">10<tspan dy="-4.3" dx="0.3" font-size="8.4">1</tspan></text>
<text class="sb" transform="translate(247.60,427.20) " font-size="10.7" letter-spacing="-0.6">10<tspan dy="-4.3" dx="0.3" font-size="8.4">2</tspan></text>
<text class="sb" transform="translate(278.70,427.20) " font-size="10.7" letter-spacing="-0.6">10<tspan dy="-4.3" dx="0.3" font-size="8.4">3</tspan></text>
<text class="sb" transform="translate(312.70,427.20) " font-size="10.7" letter-spacing="-0.6">10<tspan dy="-4.3" dx="0.3" font-size="8.4">4</tspan></text>
<text class="sb" x="227.10" y="437.60" font-size="10" text-anchor="start" textLength="52.00" lengthAdjust="spacingAndGlyphs">FL2-Height</text>
<text class="sf" x="231.80" y="327.50" font-size="17" text-anchor="start" textLength="42.40" lengthAdjust="spacing">Day 3</text>
<path d="M381.20,47.80H510.00" stroke="#222" stroke-width="1.1" fill="none" stroke-linecap="square"/>
<path d="M510.00,47.80V130.70" stroke="#222" stroke-width="1.3" fill="none" stroke-linecap="square"/>
<path d="M381.20,130.70H510.00" stroke="#111" stroke-width="1.2" fill="none" stroke-linecap="square"/>
<path d="M381.20,47.80V130.70" stroke="#111" stroke-width="1.7" fill="none" stroke-linecap="square"/>
<path d="M381.20,130.70h-2.2M381.20,127.94h-1.3M381.20,125.17h-1.3M381.20,122.41h-1.3M381.20,119.65h-1.3M381.20,116.88h-2.2M381.20,114.12h-1.3M381.20,111.36h-1.3M381.20,108.59h-1.3M381.20,105.83h-1.3M381.20,103.07h-2.2M381.20,100.30h-1.3M381.20,97.54h-1.3M381.20,94.78h-1.3M381.20,92.01h-1.3M381.20,89.25h-2.2M381.20,86.49h-1.3M381.20,83.72h-1.3M381.20,80.96h-1.3M381.20,78.20h-1.3M381.20,75.43h-2.2M381.20,72.67h-1.3M381.20,69.91h-1.3M381.20,67.14h-1.3M381.20,64.38h-1.3M381.20,61.62h-2.2M381.20,58.85h-1.3M381.20,56.09h-1.3M381.20,53.33h-1.3M381.20,50.56h-1.3M381.20,47.80h-2.2" stroke="#222" stroke-width="0.8" fill="none"/>
<path d="M381.20,130.70v2M413.40,130.70v2M445.60,130.70v2M477.80,130.70v2M510.00,130.70v2" stroke="#222" stroke-width="0.9" fill="none"/>
<path d="M381.2,126.8L381.7,126.9L382.2,127.0L382.7,126.5L383.2,127.2L383.7,128.3L384.2,127.1L384.7,127.7L385.2,127.7L385.7,127.6L386.2,127.7L386.6,127.2L387.1,127.6L387.6,128.0L388.1,128.4L388.6,128.5L389.1,127.6L389.6,126.8L390.1,127.6L390.6,127.6L391.1,127.1L391.6,128.4L392.1,127.5L392.6,126.8L393.1,126.5L393.6,127.2L394.1,126.7L394.6,126.7L395.1,126.2L395.6,127.5L396.1,126.1L396.6,127.5L397.1,128.2L397.5,126.4L398.0,126.5L398.5,124.8L399.0,124.8L399.5,126.3L400.0,124.2L400.5,125.7L401.0,124.7L401.5,124.7L402.0,124.1L402.5,123.3L403.0,123.2L403.5,123.3L404.0,122.9L404.5,122.9L405.0,123.9L405.5,123.8L406.0,123.4L406.5,122.2L407.0,122.9L407.5,120.0L408.0,123.2L408.4,123.4L408.9,121.2L409.4,120.3L409.9,121.2L410.4,120.6L410.9,119.8L411.4,121.4L411.9,122.8L412.4,121.5L412.9,119.6L413.4,122.2L413.9,120.2L414.4,119.7L414.9,120.2L415.4,118.7L415.9,118.6L416.4,116.2L416.9,118.1L417.4,119.5L417.9,119.2L418.4,119.6L418.8,117.4L419.3,119.4L419.8,118.9L420.3,117.9L420.8,119.9L421.3,119.4L421.8,121.5L422.3,120.6L422.8,120.0L423.3,118.9L423.8,118.0L424.3,119.3L424.8,118.4L425.3,118.1L425.8,116.3L426.3,116.1L426.8,116.5L427.3,117.8L427.8,114.6L428.3,114.6L428.8,111.5L429.3,111.8L429.7,106.8L430.2,109.1L430.7,103.9L431.2,104.8L431.7,102.8L432.2,100.8L432.7,95.5L433.2,88.5L433.7,86.5L434.2,83.5L434.7,87.5L435.2,75.3L435.7,71.6L436.2,70.7L436.7,66.6L437.2,60.2L437.7,52.6L438.2,58.4L438.7,59.8L439.2,57.7L439.7,66.8L440.2,70.0L440.6,73.5L441.1,83.2L441.6,85.4L442.1,94.8L442.6,95.6L443.1,102.3L443.6,103.0L444.1,111.5L444.6,114.2L445.1,120.1L445.6,120.7L446.1,122.5L446.6,123.1L447.1,126.7L447.6,124.9L448.1,125.8L448.6,125.6L449.1,126.8L449.6,127.6L450.1,128.1L450.6,128.6L451.0,127.8L451.5,128.1L452.0,126.8L452.5,128.5L453.0,128.0L453.5,129.2L454.0,128.6L454.5,128.2L455.0,128.0L455.5,127.7L456.0,128.6L456.5,129.3L457.0,128.5L457.5,128.6L458.0,128.6L458.5,129.3L459.0,128.4L459.5,129.1L460.0,128.8L460.5,128.6L461.0,129.0L461.5,129.2L461.9,128.3L462.4,129.4L462.9,129.8L463.4,129.6L463.9,128.9L464.4,129.7L464.9,129.6L465.4,129.2L465.9,130.2L466.4,130.7L466.9,129.7L467.4,129.8L467.9,130.2L468.4,129.4L468.9,129.6L469.4,130.4L469.9,129.6L470.4,130.0L470.9,130.7L471.4,129.7L471.9,129.9L472.4,130.3L472.8,129.6L473.3,129.6L473.8,130.2L474.3,129.7L474.8,129.4L475.3,130.3L475.8,129.7L476.3,129.9L476.8,128.7L477.3,130.7L477.8,129.6L478.3,130.1L478.8,130.0L479.3,128.9L479.8,129.9L480.3,128.7L480.8,130.2L481.3,129.8L481.8,130.2L482.3,130.3L482.8,129.9L483.2,130.1L483.7,129.8L484.2,130.7L484.7,128.9L485.2,130.0L485.7,129.0L486.2,130.5L486.7,129.8L487.2,128.3L487.7,130.4L488.2,130.7L488.7,130.3L489.2,129.7L489.7,129.6L490.2,129.3L490.7,130.1L491.2,130.7L491.7,130.2L492.2,129.3L492.7,129.7L493.2,130.7L493.7,130.0L494.1,129.2L494.6,128.8L495.1,129.7L495.6,129.8L496.1,130.7L496.6,130.4L497.1,130.0L497.6,129.7L498.1,129.7L498.6,130.3L499.1,130.6L499.6,130.4L500.1,130.6L500.6,129.7L501.1,130.7L501.6,130.2L502.1,129.8L502.6,129.2L503.1,130.0L503.6,129.5L504.1,130.2L504.6,130.4L505.0,130.4L505.5,129.2L506.0,129.5L506.5,129.8L507.0,128.2L507.5,130.0L508.0,129.7L508.5,129.9L509.0,130.2L509.5,128.8L510.0,129.2" fill="none" stroke="#111" stroke-width="1.1" stroke-dasharray="2.4,1.7" stroke-linejoin="round"/>
<path d="M381.2,125.2L381.7,123.7L382.2,122.7L382.7,121.4L383.2,124.7L383.7,123.7L384.2,123.6L384.7,122.5L385.2,121.9L385.7,123.0L386.2,120.4L386.6,122.2L387.1,119.0L387.6,120.6L388.1,118.3L388.6,117.6L389.1,118.0L389.6,118.2L390.1,118.0L390.6,118.1L391.1,113.2L391.6,114.3L392.1,111.6L392.6,113.6L393.1,113.2L393.6,114.3L394.1,113.3L394.6,115.2L395.1,109.9L395.6,109.4L396.1,107.5L396.6,106.6L397.1,110.8L397.5,113.0L398.0,105.3L398.5,105.5L399.0,107.4L399.5,106.4L400.0,101.5L400.5,98.0L401.0,100.0L401.5,101.6L402.0,96.8L402.5,95.0L403.0,99.7L403.5,93.6L404.0,97.0L404.5,93.4L405.0,91.2L405.5,91.3L406.0,94.6L406.5,88.4L407.0,92.5L407.5,85.4L408.0,92.0L408.4,87.1L408.9,86.3L409.4,86.1L409.9,82.6L410.4,81.6L410.9,81.1L411.4,81.7L411.9,81.1L412.4,88.7L412.9,83.3L413.4,85.0L413.9,84.8L414.4,85.8L414.9,93.4L415.4,97.3L415.9,98.7L416.4,101.3L416.9,99.5L417.4,110.5L417.9,109.6L418.4,111.3L418.8,117.0L419.3,120.7L419.8,121.1L420.3,120.4L420.8,121.6L421.3,124.0L421.8,124.7L422.3,124.4L422.8,126.4L423.3,124.4L423.8,127.4L424.3,125.1L424.8,128.2L425.3,126.2L425.8,127.5L426.3,128.8L426.8,127.6L427.3,127.4L427.8,127.4L428.3,127.8L428.8,128.1L429.3,128.2L429.7,128.0L430.2,127.2L430.7,127.8L431.2,127.7L431.7,128.1L432.2,127.3L432.7,126.7L433.2,126.9L433.7,129.3L434.2,129.1L434.7,129.2L435.2,128.8L435.7,127.4L436.2,128.9L436.7,128.7L437.2,128.9L437.7,130.0L438.2,129.5L438.7,129.2L439.2,129.3L439.7,129.0L440.2,129.1L440.6,129.0L441.1,129.9L441.6,128.2L442.1,128.6L442.6,129.4L443.1,129.2L443.6,129.5L444.1,130.2L444.6,128.5L445.1,129.3L445.6,128.3L446.1,128.0L446.6,129.9L447.1,129.8L447.6,128.7L448.1,129.4L448.6,129.5L449.1,129.4L449.6,128.8L450.1,130.0L450.6,129.1L451.0,128.4L451.5,129.5L452.0,129.4L452.5,128.9L453.0,128.6L453.5,128.6L454.0,129.0L454.5,128.3L455.0,129.8L455.5,128.3L456.0,129.0L456.5,129.6L457.0,130.4L457.5,128.5L458.0,129.3L458.5,129.2L459.0,128.5L459.5,129.8L460.0,129.1L460.5,129.1L461.0,128.6L461.5,129.5L461.9,128.5L462.4,130.1L462.9,129.8L463.4,130.2L463.9,130.4L464.4,128.7L464.9,129.7L465.4,129.9L465.9,129.7L466.4,129.8L466.9,130.7L467.4,130.2L467.9,129.6L468.4,130.7L468.9,130.0L469.4,130.1L469.9,130.5L470.4,130.7L470.9,130.3L471.4,129.8L471.9,129.5L472.4,130.7L472.8,129.8L473.3,129.5L473.8,130.7L474.3,130.7L474.8,129.6L475.3,129.4L475.8,129.6L476.3,128.9L476.8,129.5L477.3,129.0L477.8,129.9L478.3,129.9L478.8,130.5L479.3,129.9L479.8,130.2L480.3,130.3L480.8,129.5L481.3,129.7L481.8,130.2L482.3,129.8L482.8,129.7L483.2,129.7L483.7,130.4L484.2,129.5L484.7,130.3L485.2,129.8L485.7,130.3L486.2,128.6L486.7,130.7L487.2,129.3L487.7,130.6L488.2,128.9L488.7,130.7L489.2,129.5L489.7,130.1L490.2,129.4L490.7,130.7L491.2,130.2L491.7,129.7L492.2,129.4L492.7,130.4L493.2,130.7L493.7,130.2L494.1,130.4L494.6,129.9L495.1,130.3L495.6,130.7L496.1,130.1L496.6,129.1L497.1,129.6L497.6,130.3L498.1,129.6L498.6,130.7L499.1,130.4L499.6,130.1L500.1,130.3L500.6,130.4L501.1,130.0L501.6,128.8L502.1,130.0L502.6,129.8L503.1,128.9L503.6,130.7L504.1,130.2L504.6,129.4L505.0,130.7L505.5,130.3L506.0,129.2L506.5,130.0L507.0,129.9L507.5,128.7L508.0,130.7L508.5,129.3L509.0,130.7L509.5,129.8L510.0,129.6" fill="none" stroke="#0a0a0a" stroke-width="1.15" stroke-linejoin="round"/>
<text class="sb" transform="translate(376.50,129.70) rotate(-90)" font-size="10.2" text-anchor="middle" letter-spacing="-0.6">0</text>
<text class="sb" transform="translate(376.50,116.70) rotate(-90)" font-size="10.2" text-anchor="middle" letter-spacing="-0.6">20</text>
<text class="sb" transform="translate(376.50,103.50) rotate(-90)" font-size="10.2" text-anchor="middle" letter-spacing="-0.6">40</text>
<text class="sb" transform="translate(376.50,88.90) rotate(-90)" font-size="10.2" text-anchor="middle" letter-spacing="-0.6">60</text>
<text class="sb" transform="translate(376.50,75.40) rotate(-90)" font-size="10.2" text-anchor="middle" letter-spacing="-0.6">80</text>
<text class="sb" transform="translate(376.50,60.70) rotate(-90)" font-size="10.2" text-anchor="middle" letter-spacing="-0.6">100</text>
<text class="sb" transform="translate(376.50,43.30) rotate(-90)" font-size="10.2" text-anchor="middle" letter-spacing="-0.6">120</text>
<text class="sb" transform="translate(364.80,90.25) rotate(-90)" font-size="10" text-anchor="middle" textLength="33.60" lengthAdjust="spacingAndGlyphs">Counts</text>
<text class="sb" transform="translate(372.60,143.10) " font-size="10.7" letter-spacing="-0.6">10<tspan dy="-4.3" dx="0.3" font-size="8.4">0</tspan></text>
<text class="sb" transform="translate(405.20,143.10) " font-size="10.7" letter-spacing="-0.6">10<tspan dy="-4.3" dx="0.3" font-size="8.4">1</tspan></text>
<text class="sb" transform="translate(437.80,143.10) " font-size="10.7" letter-spacing="-0.6">10<tspan dy="-4.3" dx="0.3" font-size="8.4">2</tspan></text>
<text class="sb" transform="translate(469.80,143.10) " font-size="10.7" letter-spacing="-0.6">10<tspan dy="-4.3" dx="0.3" font-size="8.4">3</tspan></text>
<text class="sb" transform="translate(504.40,143.10) " font-size="10.7" letter-spacing="-0.6">10<tspan dy="-4.3" dx="0.3" font-size="8.4">4</tspan></text>
<text class="sb" x="417.70" y="153.60" font-size="10" text-anchor="start" textLength="52.00" lengthAdjust="spacingAndGlyphs">FL2-Height</text>
<path d="M381.00,332.50H510.40" stroke="#222" stroke-width="1.1" fill="none" stroke-linecap="square"/>
<path d="M510.40,332.50V413.00" stroke="#222" stroke-width="1.3" fill="none" stroke-linecap="square"/>
<path d="M381.00,413.00H510.40" stroke="#111" stroke-width="1.2" fill="none" stroke-linecap="square"/>
<path d="M381.00,332.50V413.00" stroke="#111" stroke-width="1.7" fill="none" stroke-linecap="square"/>
<path d="M381.00,413.00h-2.2M381.00,409.78h-1.3M381.00,406.56h-1.3M381.00,403.34h-1.3M381.00,400.12h-1.3M381.00,396.90h-2.2M381.00,393.68h-1.3M381.00,390.46h-1.3M381.00,387.24h-1.3M381.00,384.02h-1.3M381.00,380.80h-2.2M381.00,377.58h-1.3M381.00,374.36h-1.3M381.00,371.14h-1.3M381.00,367.92h-1.3M381.00,364.70h-2.2M381.00,361.48h-1.3M381.00,358.26h-1.3M381.00,355.04h-1.3M381.00,351.82h-1.3M381.00,348.60h-2.2M381.00,345.38h-1.3M381.00,342.16h-1.3M381.00,338.94h-1.3M381.00,335.72h-1.3M381.00,332.50h-2.2" stroke="#222" stroke-width="0.8" fill="none"/>
<path d="M381.00,413.00v2M413.35,413.00v2M445.70,413.00v2M478.05,413.00v2M510.40,413.00v2" stroke="#222" stroke-width="0.9" fill="none"/>
<path d="M381.0,408.2L381.5,408.2L382.0,407.9L382.5,408.9L383.0,405.2L383.5,406.8L384.0,404.9L384.5,405.8L385.0,402.9L385.5,404.3L386.0,402.9L386.5,401.4L387.0,402.8L387.5,402.2L388.0,401.5L388.5,400.4L389.0,398.8L389.5,398.9L390.0,398.6L390.5,396.3L391.0,397.0L391.5,399.2L391.9,392.4L392.4,399.5L392.9,389.0L393.4,397.6L393.9,396.5L394.4,393.9L394.9,388.4L395.4,392.8L395.9,386.8L396.4,385.0L396.9,388.8L397.4,386.1L397.9,382.8L398.4,382.2L398.9,384.3L399.4,387.2L399.9,382.0L400.4,381.9L400.9,377.1L401.4,376.1L401.9,377.6L402.4,377.7L402.9,374.9L403.4,370.6L403.9,368.4L404.4,367.6L404.9,364.6L405.4,363.5L405.9,368.7L406.4,360.8L406.9,370.0L407.4,361.8L407.9,363.5L408.4,370.1L408.9,359.9L409.4,359.9L409.9,359.9L410.4,370.8L410.9,376.1L411.4,364.5L411.9,368.0L412.4,373.6L412.9,375.5L413.4,381.5L413.8,376.3L414.3,386.4L414.8,385.7L415.3,383.3L415.8,379.9L416.3,383.9L416.8,384.9L417.3,385.9L417.8,389.3L418.3,394.9L418.8,394.5L419.3,396.1L419.8,399.0L420.3,398.9L420.8,400.2L421.3,404.1L421.8,405.4L422.3,403.0L422.8,402.2L423.3,402.2L423.8,402.2L424.3,404.3L424.8,405.1L425.3,406.8L425.8,408.3L426.3,411.3L426.8,407.0L427.3,405.6L427.8,406.6L428.3,403.5L428.8,404.1L429.3,405.2L429.8,406.8L430.3,403.9L430.8,404.2L431.3,408.6L431.8,406.3L432.3,405.5L432.8,408.8L433.3,405.3L433.8,408.5L434.3,407.8L434.8,409.4L435.2,408.9L435.7,409.0L436.2,407.6L436.7,409.9L437.2,409.0L437.7,408.9L438.2,410.2L438.7,409.5L439.2,411.6L439.7,411.6L440.2,410.8L440.7,412.1L441.2,411.4L441.7,410.8L442.2,411.4L442.7,411.4L443.2,411.7L443.7,410.5L444.2,411.2L444.7,413.0L445.2,410.4L445.7,409.9L446.2,410.7L446.7,410.4L447.2,412.0L447.7,410.2L448.2,411.0L448.7,411.7L449.2,410.7L449.7,411.5L450.2,412.4L450.7,411.9L451.2,411.5L451.7,412.1L452.2,411.6L452.7,412.4L453.2,413.0L453.7,411.0L454.2,411.6L454.7,411.6L455.2,413.0L455.7,412.1L456.2,411.0L456.6,412.4L457.1,412.9L457.6,410.3L458.1,412.0L458.6,411.6L459.1,412.1L459.6,411.0L460.1,411.9L460.6,412.6L461.1,412.4L461.6,412.1L462.1,410.7L462.6,412.1L463.1,412.3L463.6,411.2L464.1,411.3L464.6,412.6L465.1,412.0L465.6,411.5L466.1,412.4L466.6,411.5L467.1,411.8L467.6,413.0L468.1,411.6L468.6,412.2L469.1,412.5L469.6,413.0L470.1,411.9L470.6,413.0L471.1,412.1L471.6,411.1L472.1,413.0L472.6,412.5L473.1,412.5L473.6,411.6L474.1,412.3L474.6,412.6L475.1,411.4L475.6,413.0L476.1,412.5L476.6,413.0L477.1,412.7L477.6,412.0L478.0,413.0L478.5,412.4L479.0,411.1L479.5,413.0L480.0,412.3L480.5,412.5L481.0,410.9L481.5,412.4L482.0,412.8L482.5,411.4L483.0,412.6L483.5,412.9L484.0,412.0L484.5,413.0L485.0,411.3L485.5,411.5L486.0,412.7L486.5,413.0L487.0,412.5L487.5,411.1L488.0,411.1L488.5,412.5L489.0,412.2L489.5,412.2L490.0,411.6L490.5,412.2L491.0,412.8L491.5,411.3L492.0,410.9L492.5,412.9L493.0,410.6L493.5,412.0L494.0,412.3L494.5,412.1L495.0,411.5L495.5,413.0L496.0,412.5L496.5,410.4L497.0,412.7L497.5,413.0L498.0,413.0L498.5,410.9L499.0,413.0L499.5,412.6L499.9,412.5L500.4,412.6L500.9,412.4L501.4,413.0L501.9,410.9L502.4,413.0L502.9,411.6L503.4,411.1L503.9,412.7L504.4,413.0L504.9,411.7L505.4,411.3L505.9,411.4L506.4,412.8L506.9,412.9L507.4,413.0L507.9,411.7L508.4,411.8L508.9,412.2L509.4,413.0L509.9,413.0L510.4,413.0" fill="none" stroke="#111" stroke-width="1.1" stroke-dasharray="1.6,1.0" stroke-linejoin="round"/>
<path d="M381.0,408.6L381.5,407.0L382.0,406.7L382.5,405.5L383.0,406.5L383.5,404.8L384.0,404.6L384.5,405.8L385.0,402.7L385.5,404.7L386.0,405.5L386.5,403.6L387.0,403.6L387.5,402.6L388.0,399.7L388.5,400.7L389.0,396.9L389.5,399.8L390.0,397.6L390.5,398.0L391.0,400.6L391.5,396.2L391.9,394.7L392.4,392.7L392.9,396.6L393.4,390.9L393.9,389.6L394.4,393.5L394.9,389.9L395.4,386.9L395.9,393.0L396.4,386.4L396.9,391.8L397.4,384.7L397.9,380.1L398.4,383.8L398.9,380.1L399.4,385.3L399.9,381.2L400.4,379.5L400.9,374.4L401.4,376.5L401.9,372.0L402.4,373.4L402.9,374.1L403.4,370.3L403.9,368.9L404.4,369.8L404.9,365.4L405.4,369.8L405.9,365.5L406.4,363.3L406.9,366.5L407.4,363.7L407.9,362.9L408.4,366.9L408.9,359.9L409.4,361.8L409.9,360.3L410.4,374.7L410.9,361.9L411.4,369.4L411.9,372.7L412.4,371.7L412.9,370.0L413.4,380.3L413.8,374.0L414.3,382.9L414.8,377.8L415.3,381.9L415.8,381.6L416.3,384.5L416.8,390.5L417.3,391.1L417.8,390.6L418.3,394.5L418.8,395.5L419.3,398.8L419.8,396.5L420.3,394.2L420.8,398.3L421.3,400.6L421.8,404.3L422.3,403.4L422.8,401.7L423.3,404.1L423.8,403.6L424.3,405.6L424.8,406.1L425.3,405.8L425.8,407.2L426.3,407.5L426.8,406.4L427.3,407.1L427.8,409.4L428.3,405.9L428.8,404.9L429.3,406.4L429.8,407.4L430.3,408.2L430.8,407.8L431.3,407.1L431.8,406.1L432.3,407.5L432.8,408.1L433.3,409.4L433.8,408.4L434.3,409.7L434.8,407.4L435.2,409.1L435.7,409.6L436.2,408.0L436.7,408.1L437.2,409.7L437.7,411.0L438.2,408.9L438.7,410.5L439.2,409.6L439.7,411.1L440.2,410.7L440.7,410.7L441.2,411.3L441.7,411.5L442.2,410.0L442.7,411.1L443.2,410.0L443.7,410.5L444.2,410.9L444.7,410.7L445.2,411.4L445.7,411.3L446.2,411.1L446.7,411.3L447.2,411.9L447.7,411.0L448.2,411.4L448.7,410.7L449.2,412.1L449.7,410.3L450.2,411.8L450.7,411.3L451.2,411.6L451.7,412.9L452.2,412.1L452.7,411.2L453.2,411.1L453.7,412.1L454.2,411.0L454.7,411.3L455.2,412.3L455.7,411.1L456.2,412.0L456.6,412.8L457.1,411.6L457.6,412.0L458.1,412.3L458.6,412.8L459.1,412.4L459.6,411.4L460.1,412.4L460.6,412.8L461.1,412.7L461.6,411.5L462.1,411.2L462.6,412.8L463.1,412.5L463.6,411.8L464.1,411.6L464.6,412.5L465.1,412.0L465.6,411.2L466.1,412.6L466.6,412.4L467.1,412.1L467.6,411.9L468.1,412.2L468.6,412.9L469.1,412.2L469.6,411.7L470.1,412.9L470.6,412.8L471.1,412.6L471.6,411.2L472.1,412.4L472.6,412.9L473.1,411.4L473.6,411.6L474.1,412.4L474.6,412.1L475.1,412.1L475.6,411.9L476.1,412.3L476.6,412.1L477.1,412.6L477.6,412.2L478.0,411.9L478.5,412.2L479.0,412.5L479.5,413.0L480.0,412.1L480.5,412.3L481.0,412.3L481.5,411.2L482.0,412.2L482.5,412.3L483.0,412.0L483.5,413.0L484.0,412.4L484.5,412.4L485.0,412.0L485.5,412.0L486.0,411.7L486.5,412.2L487.0,412.5L487.5,412.2L488.0,413.0L488.5,412.8L489.0,412.5L489.5,411.6L490.0,412.2L490.5,413.0L491.0,411.8L491.5,412.0L492.0,412.2L492.5,411.6L493.0,412.2L493.5,411.6L494.0,412.0L494.5,412.8L495.0,412.1L495.5,411.8L496.0,411.1L496.5,412.6L497.0,412.3L497.5,413.0L498.0,412.8L498.5,413.0L499.0,412.2L499.5,411.9L499.9,413.0L500.4,411.8L500.9,412.2L501.4,412.7L501.9,412.4L502.4,413.0L502.9,412.3L503.4,412.3L503.9,413.0L504.4,412.3L504.9,412.8L505.4,412.9L505.9,412.8L506.4,412.3L506.9,412.6L507.4,411.9L507.9,411.5L508.4,412.4L508.9,412.8L509.4,412.2L509.9,413.0L510.4,412.7" fill="none" stroke="#0a0a0a" stroke-width="1.15" stroke-linejoin="round"/>
<text class="sb" transform="translate(376.40,413.10) rotate(-90)" font-size="10.2" text-anchor="middle" letter-spacing="-0.6">0</text>
<text class="sb" transform="translate(376.40,401.20) rotate(-90)" font-size="10.2" text-anchor="middle" letter-spacing="-0.6">20</text>
<text class="sb" transform="translate(376.40,384.70) rotate(-90)" font-size="10.2" text-anchor="middle" letter-spacing="-0.6">40</text>
<text class="sb" transform="translate(376.40,366.70) rotate(-90)" font-size="10.2" text-anchor="middle" letter-spacing="-0.6">60</text>
<text class="sb" transform="translate(376.40,349.70) rotate(-90)" font-size="10.2" text-anchor="middle" letter-spacing="-0.6">80</text>
<text class="sb" transform="translate(376.40,332.70) rotate(-90)" font-size="10.2" text-anchor="middle" letter-spacing="-0.6">100</text>
<text class="sb" transform="translate(365.40,373.75) rotate(-90)" font-size="10" text-anchor="middle" textLength="33.60" lengthAdjust="spacingAndGlyphs">Counts</text>
<text class="sb" transform="translate(373.50,426.40) " font-size="10.7" letter-spacing="-0.6">10<tspan dy="-4.3" dx="0.3" font-size="8.4">0</tspan></text>
<text class="sb" transform="translate(405.60,426.40) " font-size="10.7" letter-spacing="-0.6">10<tspan dy="-4.3" dx="0.3" font-size="8.4">1</tspan></text>
<text class="sb" transform="translate(437.50,426.40) " font-size="10.7" letter-spacing="-0.6">10<tspan dy="-4.3" dx="0.3" font-size="8.4">2</tspan></text>
<text class="sb" transform="translate(469.30,426.40) " font-size="10.7" letter-spacing="-0.6">10<tspan dy="-4.3" dx="0.3" font-size="8.4">3</tspan></text>
<text class="sb" transform="translate(506.40,426.40) " font-size="10.7" letter-spacing="-0.6">10<tspan dy="-4.3" dx="0.3" font-size="8.4">4</tspan></text>
<text class="sb" x="419.40" y="437.60" font-size="10" text-anchor="start" textLength="52.00" lengthAdjust="spacingAndGlyphs">FL2-Height</text>
<text class="sf" x="423.20" y="329.30" font-size="17" text-anchor="start" textLength="41.80" lengthAdjust="spacing">CD19</text>
</svg>
</body>
</html>
